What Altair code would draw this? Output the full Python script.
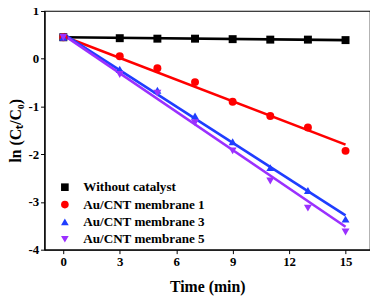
import altair as alt
import pandas as pd

series = ["Without catalyst", "Au/CNT membrane 1", "Au/CNT membrane 3", "Au/CNT membrane 5"]
colors = ["#000000", "#ff0000", "#1f3dff", "#9b30ff"]
shapes = ["square", "circle", "triangle-up", "triangle-down"]

times = [0, 3, 5, 7, 9, 11, 13, 15]
v_without = [0.45, 0.43, 0.42, 0.42, 0.41, 0.40, 0.40, 0.39]
v_m1 = [0.45, 0.05, -0.20, -0.49, -0.90, -1.20, -1.44, -1.93]
v_m3 = [0.45, -0.22, -0.66, -1.20, -1.74, -2.28, -2.76, -3.36]
v_m5 = [0.45, -0.33, -0.72, -1.34, -1.93, -2.56, -3.13, -3.63]

fit_t = [0, 15]
fit_without = [0.45, 0.39]
fit_m1 = [0.47, -1.80]
fit_m3 = [0.52, -3.28]
fit_m5 = [0.50, -3.52]

vals = [v_without, v_m1, v_m3, v_m5]
fits = [fit_without, fit_m1, fit_m3, fit_m5]

pts = pd.DataFrame([
    {"series": s, "t": t, "v": v}
    for s, vs in zip(series, vals) for t, v in zip(times, vs)
])
lines = pd.DataFrame([
    {"series": s, "t": t, "v": v}
    for s, fs in zip(series, fits) for t, v in zip(fit_t, fs)
])

FONT = "Liberation Serif"

xenc = alt.X("t:Q", scale=alt.Scale(domain=[-1, 16.3], nice=False, zero=False),
             axis=alt.Axis(values=[0, 3, 6, 9, 12, 15], title="Time (min)", titlePadding=10))
yenc = alt.Y("v:Q", scale=alt.Scale(domain=[-4, 1], nice=False),
             axis=alt.Axis(values=[-4, -3, -2, -1, 0, 1], title="ln (Cₜ/C₀)",
                           labelExpr="datum.value", titlePadding=4))

cscale = alt.Scale(domain=series, range=colors)

line_layer = alt.Chart(lines).mark_line(strokeWidth=2.6).encode(
    x=xenc, y=yenc,
    color=alt.Color("series:N", scale=cscale),
)

point_layer = alt.Chart(pts).mark_point(filled=True, opacity=1, size=65).encode(
    x=xenc, y=yenc,
    color=alt.Color("series:N", scale=cscale),
    shape=alt.Shape("series:N", scale=alt.Scale(domain=series, range=shapes)),
)

chart = alt.layer(line_layer, point_layer).properties(
    width=330, height=242, autosize=alt.AutoSizeParams(type="none"),
    padding={"left": 37, "top": 1, "right": 0, "bottom": 50},
).configure_view(stroke="black", strokeWidth=1.2).configure_axis(
    grid=False, domainColor="black", tickColor="black", tickSize=4, domainWidth=1.2,
    labelFont=FONT, labelFontSize=13, labelFontWeight="bold", labelColor="black",
    titleFont=FONT, titleFontSize=16, titleFontWeight="bold", titleColor="black",
).configure_legend(
    title=None, orient="none", legendX=14, legendY=172,
    symbolSize=60, labelFontSize=13.3, labelFont=FONT,
    labelFontWeight="bold", labelOffset=12, rowPadding=3.6,
    labelColor="black", symbolStrokeWidth=0, symbolFillColor="black",
)

chart.save("out.html", embed_options={"renderer": "svg", "actions": False})
